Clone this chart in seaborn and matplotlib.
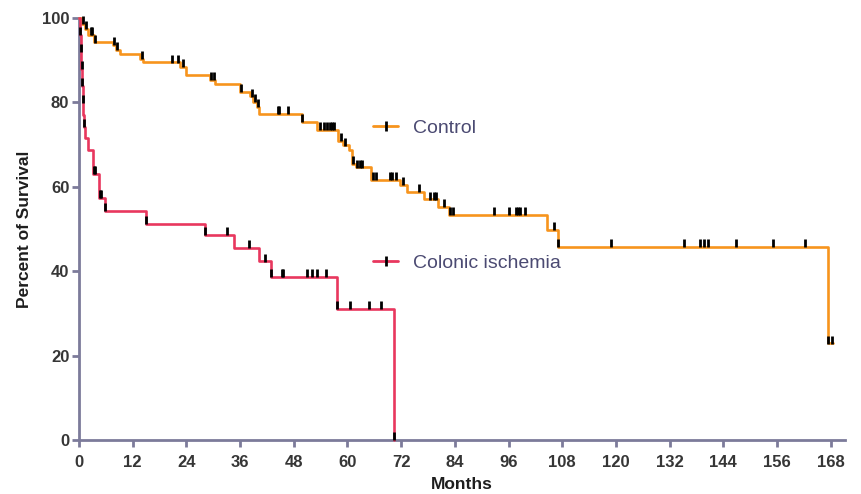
import numpy as np
import pandas as pd
import matplotlib
matplotlib.use("Agg")
import matplotlib.pyplot as plt
from matplotlib.lines import Line2D
import seaborn as sns

# ---------------- data ----------------
control_times = [0, 0.6, 1.3, 2.0, 3.3, 7.5, 8.2, 9.2, 13.6, 14.4, 22.6, 24.0,
                 29.3, 30.5, 35.9, 38.3, 38.9, 39.8, 40.3, 49.8, 53.3, 57.8,
                 59.0, 60.4, 61.0, 62.0, 65.2, 71.8, 73.3, 77.0, 80.2, 82.8,
                 104.6, 107.0, 167.3, 168.6]
control_surv = [100, 98.6, 97.4, 96.0, 94.2, 93.6, 92.4, 91.4, 90.4, 89.5, 88.5,
                86.5, 85.3, 84.3, 82.4, 81.4, 80.2, 79.0, 77.3, 75.3, 73.5, 70.8,
                69.8, 68.7, 65.4, 64.6, 61.7, 60.4, 58.7, 57.0, 55.3, 53.3,
                49.8, 45.8, 22.9, 22.9]
control_censored = [0.8, 1.6, 2.6, 3.0, 3.6, 7.8, 8.6, 14.0, 20.7, 22.2, 23.2,
                    29.6, 30.2, 36.2, 38.6, 39.3, 40.0, 44.5, 44.8, 46.8, 49.8,
                    53.8, 54.7, 55.5, 56.2, 56.6, 57.0, 58.5, 59.5, 61.3, 62.2,
                    62.7, 63.2, 65.6, 66.3, 69.6, 70.0, 70.8, 72.4, 75.9, 78.5,
                    79.3, 79.7, 81.5, 83.0, 83.7, 92.8, 96.0, 97.6, 98.1, 98.6,
                    99.6, 106.1, 107.0, 118.8, 135.3, 138.8, 139.7, 140.5, 146.8,
                    155.1, 162.2, 167.4, 168.3]

ischemia_times = [0, 0.2, 0.35, 0.5, 0.65, 0.8, 0.95, 1.1, 1.4, 2.0, 3.2, 4.5,
                  5.8, 15.0, 28.2, 34.7, 40.3, 43.0, 57.6, 70.3]
ischemia_surv = [100, 96, 92, 88, 84, 80, 77, 74.2, 71.5, 68.7, 63.0, 57.3,
                 54.3, 51.3, 48.6, 45.6, 42.3, 38.7, 31.0, 0]
ischemia_censored = [0.3, 0.45, 0.6, 0.75, 0.9, 1.2, 3.3, 3.5, 4.6, 5.0, 5.8,
                     15.0, 28.2, 33.0, 38.0, 41.6, 43.0, 45.3, 45.6, 51.0, 52.0,
                     53.3, 55.2, 57.6, 60.6, 64.9, 67.6, 70.3]

group_names = ["Control", "Colonic ischemia"]
x_ticks = list(range(0, 169, 12))
y_ticks = [0, 20, 40, 60, 80, 100]

# ---------------- styling ----------------
sns.set_style("ticks")
plt.rcParams["font.family"] = ["Liberation Sans", "DejaVu Sans"]

C_CONTROL = "#F7941D"
C_ISCH = "#E8375E"
AXIS_COL = "#7C7B9A"
LEGEND_TXT = "#4B4A72"

fig = plt.figure(figsize=(8.62, 4.94), dpi=100)
ax = fig.add_axes([79 / 862, 1 - 440 / 494, (845 - 79) / 862, (440 - 18) / 494])


def censor_y(times, surv, cens):
    t = np.asarray(times)
    s = np.asarray(surv)
    idx = np.searchsorted(t, np.asarray(cens), side="right") - 1
    return s[np.clip(idx, 0, len(s) - 1)]


df_c = pd.DataFrame({"time": control_times, "surv": control_surv})
df_i = pd.DataFrame({"time": ischemia_times, "surv": ischemia_surv})

sns.lineplot(data=df_c, x="time", y="surv", ax=ax, color=C_CONTROL,
             drawstyle="steps-post", estimator=None, sort=False, lw=1.9,
             clip_on=False, zorder=3)
sns.lineplot(data=df_i, x="time", y="surv", ax=ax, color=C_ISCH,
             drawstyle="steps-post", estimator=None, sort=False, lw=1.9,
             clip_on=False, zorder=3)

cy_c = censor_y(control_times, control_surv, control_censored)
cy_i = censor_y(ischemia_times, ischemia_surv, ischemia_censored)
sns.scatterplot(x=control_censored, y=cy_c + 0.9, ax=ax, marker="|", s=40,
                color="black", linewidth=2.0, zorder=4, clip_on=False)
sns.scatterplot(x=ischemia_censored, y=cy_i + 0.9, ax=ax, marker="|", s=40,
                color="black", linewidth=2.0, zorder=4, clip_on=False)

ax.set_xlim(0, 171.2)
ax.set_ylim(0, 100)
ax.set_xticks(x_ticks)
ax.set_yticks(y_ticks)
ax.set_xticklabels([str(v) for v in x_ticks])
ax.set_yticklabels([str(v) for v in y_ticks])

for sp in ["top", "right"]:
    ax.spines[sp].set_visible(False)
for sp in ["left", "bottom"]:
    ax.spines[sp].set_color(AXIS_COL)
    ax.spines[sp].set_linewidth(2.0)
ax.spines["left"].set_bounds(0, 100)

ax.tick_params(axis="both", direction="out", length=5, width=2.0,
               color=AXIS_COL, labelcolor="#363636")
ax.tick_params(axis="x", pad=6)
ax.tick_params(axis="y", pad=2)
for lab in ax.get_xticklabels() + ax.get_yticklabels():
    lab.set_fontweight("bold")
    lab.set_fontsize(12)

ax.set_xlabel("Months", fontsize=12.5, fontweight="bold", color="#1E1E1E",
              labelpad=4.5)
ax.set_ylabel("Percent of Survival", fontsize=12.5, fontweight="bold",
              color="#1E1E1E", labelpad=7)

handles = [
    Line2D([], [], color=C_CONTROL, lw=2, marker="|", markersize=7,
           markeredgecolor="black", markeredgewidth=2),
    Line2D([], [], color=C_ISCH, lw=2, marker="|", markersize=7,
           markeredgecolor="black", markeredgewidth=2),
]
leg = ax.legend(handles, group_names, loc="upper left",
                bbox_to_anchor=((373 - 79) / 766, (440 - 119) / 422),
                frameon=False, fontsize=14, numpoints=1, handlelength=1.3,
                handletextpad=0.78, labelspacing=6.05, borderpad=0,
                borderaxespad=0)
for t in leg.get_texts():
    t.set_color(LEGEND_TXT)

fig.savefig("out.png", dpi=100)
